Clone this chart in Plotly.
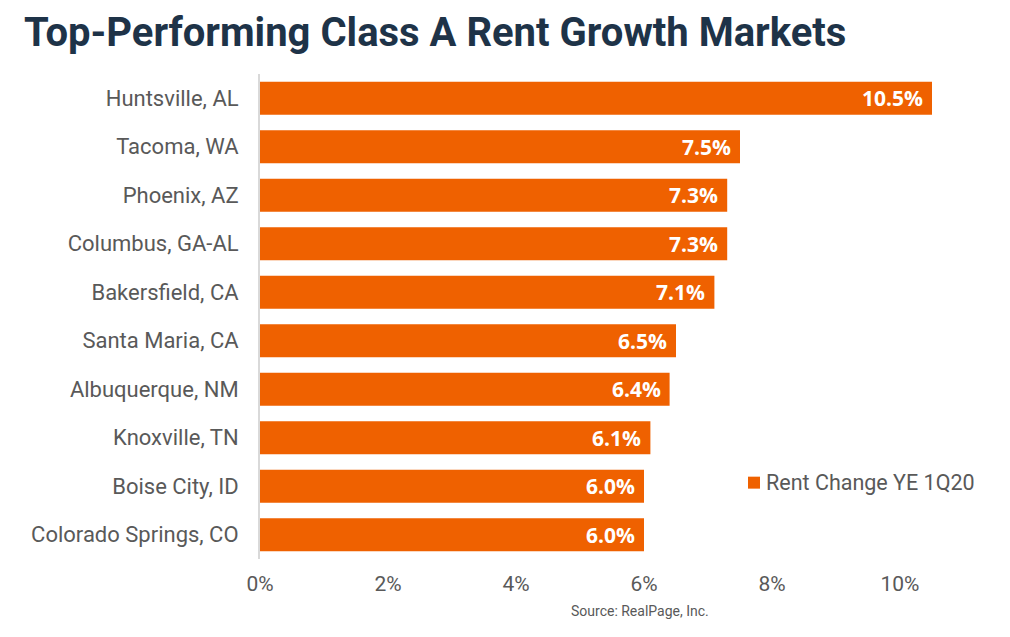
import plotly.graph_objects as go

markets = ["Huntsville, AL", "Tacoma, WA", "Phoenix, AZ", "Columbus, GA-AL", "Bakersfield, CA",
           "Santa Maria, CA", "Albuquerque, NM", "Knoxville, TN", "Boise City, ID", "Colorado Springs, CO"]
rent_change = [10.5, 7.5, 7.3, 7.3, 7.1, 6.5, 6.4, 6.1, 6.0, 6.0]
tick_vals = [0, 2, 4, 6, 8, 10]
tick_text = ["0%", "2%", "4%", "6%", "8%", "10%"]
series_name = "Rent Change YE 1Q20"
title = "Top-Performing Class A Rent Growth Markets"
source = "Source: RealPage, Inc."

ORANGE = "#EF6100"
GREY = "#595959"

L, R, T, B = 260, 996, 73.5, 559.5
PW, PH = R - L, B - T

def px(x):
    return (x - L) / PW

def py(y):
    return (B - y) / PH

fig = go.Figure()
fig.add_trace(go.Bar(
    y=markets, x=rent_change, orientation="h", name=series_name,
    marker=dict(color=ORANGE, line=dict(width=0)),
    showlegend=False, hoverinfo="skip",
))

for m, v in zip(markets, rent_change):
    fig.add_annotation(x=v, y=m, xref="x", yref="y", text=f"<b>{v:.1f}%</b>",
                       showarrow=False, xanchor="right", xshift=-7,
                       font=dict(family="Open Sans", size=21, color="white"))

# source note
fig.add_annotation(x=px(640), y=py(612), xref="paper", yref="paper", text=source,
                   showarrow=False, xanchor="center", yanchor="middle",
                   font=dict(family="Roboto", size=14, color=GREY))

# legend (manual, to match tight symbol spacing)
fig.add_shape(type="rect", xref="paper", yref="paper",
              x0=px(748), x1=px(760), y0=py(477), y1=py(489),
              fillcolor=ORANGE, line=dict(width=0))
fig.add_annotation(x=px(764), y=py(483), xref="paper", yref="paper", text=series_name,
                   showarrow=False, xanchor="left", yanchor="middle",
                   font=dict(family="Roboto", size=21.5, color=GREY))

fig.update_layout(
    width=1010, height=637,
    margin=dict(l=L, r=1010 - R, t=T, b=637 - B),
    paper_bgcolor="white", plot_bgcolor="white",
    title=dict(text=f"<b>{title}</b>", x=24 / 1010, xanchor="left", xref="container",
               y=1 - 32 / 637, yanchor="middle", yref="container",
               font=dict(family="Roboto", size=40, color="#1E3348")),
    bargap=0.32,
    font=dict(family="Roboto", color=GREY),
    showlegend=False,
    xaxis=dict(range=[0, 11.5], tickvals=tick_vals, ticktext=tick_text, showgrid=False,
               zeroline=False, showline=False, ticks="", tickfont=dict(size=21, color=GREY),
               ticklabelstandoff=10, fixedrange=True),
    yaxis=dict(autorange="reversed", showgrid=False, zeroline=False, showline=True,
               linecolor="#D9D9D9", linewidth=2, ticks="", tickfont=dict(size=22, color=GREY),
               ticklabelstandoff=15, fixedrange=True),
)

fig.write_html("out.html", config={"displayModeBar": False},
               post_script="document.body.style.margin='0px';")
